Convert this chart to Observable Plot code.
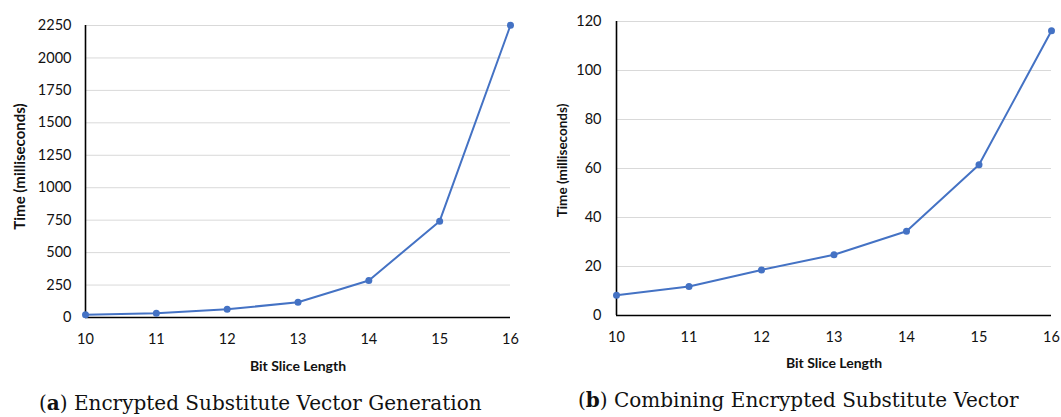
<!DOCTYPE html>
<html>
<head>
<meta charset="utf-8">
<script src="https://cdn.jsdelivr.net/npm/d3@7"></script>
<script src="https://cdn.jsdelivr.net/npm/@observablehq/plot@0.6"></script>
<style>
  html, body { margin: 0; padding: 0; background: #fff; }
  #wrap { position: relative; width: 1061px; height: 417px; overflow: hidden; }
  .panel { position: absolute; top: 0; }
  .caption { position: absolute; font-family: "DejaVu Serif", serif; font-size: 20px; line-height: 23px; color: #111; white-space: nowrap; }
  svg text { fill: #111; }
</style>
</head>
<body>
<div id="wrap">
  <div id="pa" class="panel" style="left:0px"></div>
  <div id="pb" class="panel" style="left:530px"></div>
  <div class="caption" id="capA" style="left:39px; top:392px">(<b>a</b>) Encrypted Substitute Vector Generation</div>
  <div class="caption" id="capB" style="left:578px; top:389px">(<b>b</b>) Combining Encrypted Substitute Vector</div>
</div>
<script>
const bitLengths = [10, 11, 12, 13, 14, 15, 16];
const genTimes = [22, 32, 63, 118, 285, 742, 2252];
const combTimes = [8.3, 11.8, 18.6, 24.8, 34.4, 61.5, 116.2];
const genTicks = [0, 250, 500, 750, 1000, 1250, 1500, 1750, 2000, 2250];
const combTicks = [0, 20, 40, 60, 80, 100, 120];
const xLabel = "Bit Slice Length";
const yLabel = "Time (milliseconds)";

const blue = "#4472C4";
const font = "Lato, 'Open Sans', sans-serif";

function makeChart(values, yTicks, yMax, opts) {
  const data = bitLengths.map((b, i) => ({b, t: values[i]}));
  return Plot.plot({
    width: opts.width,
    height: 380,
    marginLeft: opts.marginLeft,
    marginRight: opts.marginRight,
    marginTop: opts.marginTop,
    marginBottom: opts.marginBottom,
    style: {fontFamily: font, fontSize: "14.5px", color: "#111", background: "transparent"},
    x: {domain: [10, 16], ticks: bitLengths},
    y: {domain: [0, yMax], ticks: yTicks},
    marks: [
      Plot.gridY(yTicks.filter(d => d > 0), {stroke: "#d9d9d9", strokeOpacity: 1, strokeWidth: 1}),
      Plot.axisY({ticks: yTicks, tickSize: 0, tickPadding: opts.yPad, tickFormat: d => String(d),
        label: null}),
      Plot.axisX({ticks: bitLengths, tickSize: 0, tickPadding: 16, tickFormat: d => String(d), label: null}),
      Plot.ruleY([0], {stroke: "#000", strokeWidth: 1.6}),
      Plot.ruleX([10], {stroke: "#000", strokeWidth: 1.6}),
      Plot.line(data, {x: "b", y: "t", stroke: blue, strokeWidth: 2}),
      Plot.dot(data, {x: "b", y: "t", r: 3.5, fill: blue, stroke: "none"}),
      Plot.text([xLabel], {frameAnchor: "bottom", dy: opts.xTitleDy, text: d => d, fontWeight: "bold", fontSize: 14, fill: "#111"}),
      Plot.text([yLabel], {frameAnchor: "left", textAnchor: "middle", lineAnchor: "middle", dx: -opts.yTitleDx, dy: opts.yTitleDy, rotate: -90, text: d => d, fontWeight: "bold", fontSize: opts.yTitleSize, fill: "#111"})
    ]
  });
}

document.getElementById("pa").append(makeChart(genTimes, genTicks, 2250, {
  width: 530, marginLeft: 85, marginRight: 20, marginTop: 25, marginBottom: 63, yPad: 14,
  xTitleDy: 53, yTitleDx: 65, yTitleDy: -5, yTitleSize: 15
}));
document.getElementById("pb").append(makeChart(combTimes, combTicks, 120, {
  width: 531, marginLeft: 86, marginRight: 10, marginTop: 21, marginBottom: 65, yPad: 15,
  xTitleDy: 52, yTitleDx: 54, yTitleDy: -8, yTitleSize: 13.5
}));
</script>
</body>
</html>
